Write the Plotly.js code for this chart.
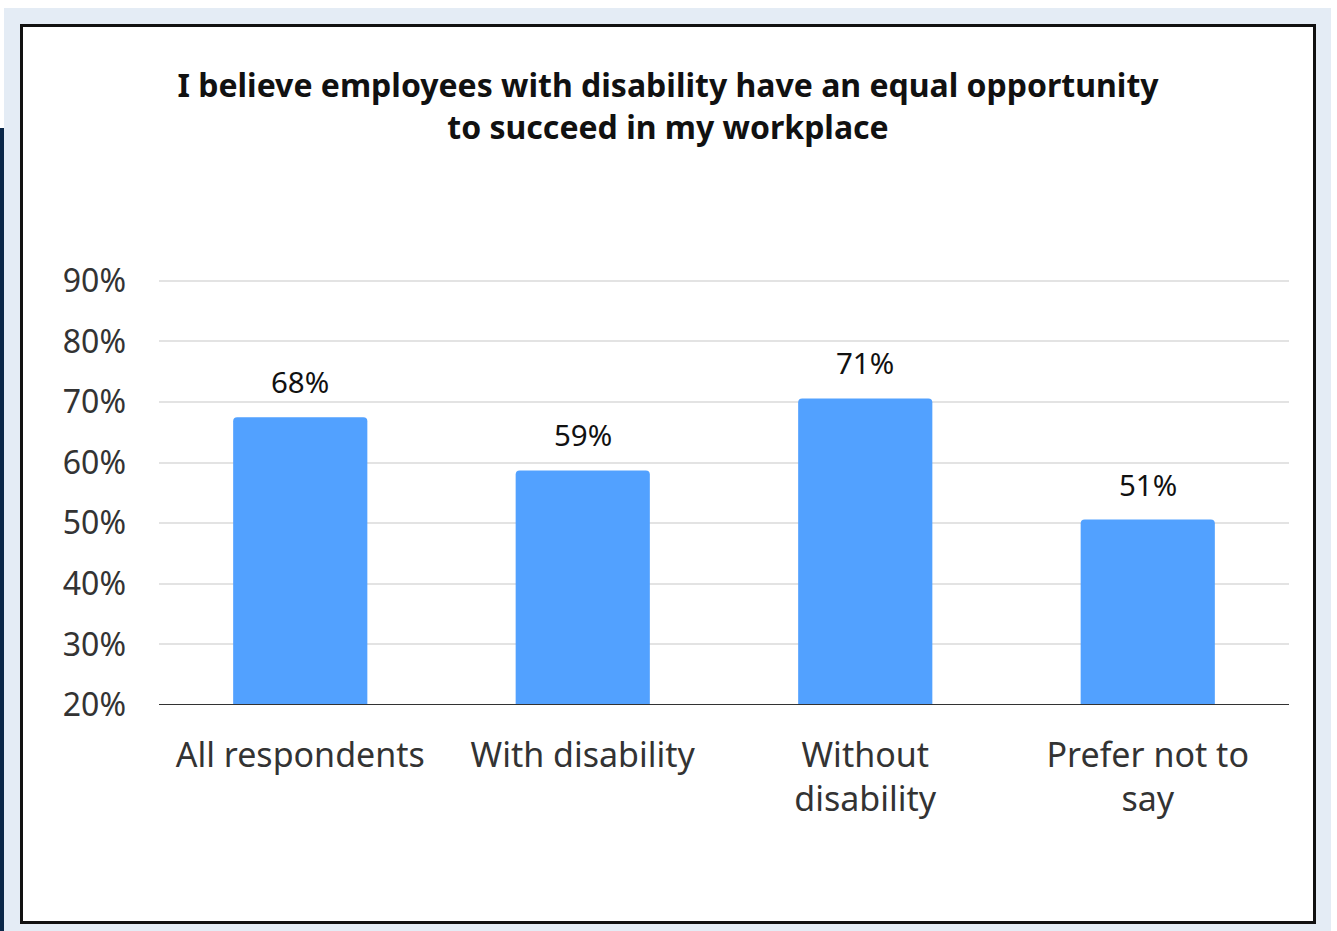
<!DOCTYPE html>
<html>
<head>
<meta charset="utf-8">
<script src="https://cdn.plot.ly/plotly-3.0.1.min.js"></script>
<style>
  html, body { margin: 0; padding: 0; width: 1337px; height: 931px; overflow: hidden; background: #ffffff; }
  #bg { position: absolute; left: 4px; top: 8px; width: 1327px; height: 923px; background: #e4ecf5; }
  #strip { position: absolute; left: 0; top: 128px; width: 4px; height: 803px; background: #0b2748; }
  #chart { position: absolute; left: 20px; top: 24px; width: 1296px; height: 900px; box-sizing: border-box; border: 3px solid #111111; background: #ffffff; }
</style>
</head>
<body>
<div id="bg"></div>
<div id="strip"></div>
<div id="chart"></div>
<script>
const categories = ["All respondents", "With disability", "Without<br>disability", "Prefer not to<br>say"];
const values = [67.5, 58.7, 70.6, 50.6];
const valueLabels = ["68%", "59%", "71%", "51%"];
const tickValues = [20, 30, 40, 50, 60, 70, 80, 90];
const tickLabels = ["20%", "30%", "40%", "50%", "60%", "70%", "80%", "90%"];
const titleText = "I believe employees with disability have an equal opportunity<br>to succeed in my workplace";

const font = "Noto Sans, Open Sans, sans-serif";

const trace = {
  type: "bar",
  x: categories,
  y: values,
  marker: { color: "#52a1ff", cornerradius: 4 },
  width: 0.475,
  hoverinfo: "skip"
};

const annotations = categories.map((c, i) => ({
  x: c, y: values[i], xref: "x", yref: "y",
  text: valueLabels[i], showarrow: false,
  yanchor: "bottom", yshift: 13,
  font: { family: font, size: 29.5, color: "#111111" }
}));

const layout = {
  width: 1290, height: 894,
  margin: { l: 136, r: 24, t: 252, b: 216 },
  paper_bgcolor: "#ffffff",
  plot_bgcolor: "#ffffff",
  showlegend: false,
  title: {
    text: titleText,
    x: 0.5, xref: "container", xanchor: "center",
    y: 1 - 70 / 894, yref: "container", yanchor: "top",
    font: { family: font, size: 32, color: "#111111", weight: "bold" }
  },
  xaxis: {
    type: "category",
    range: [-0.5, 3.5],
    showgrid: false,
    showline: false,
    zeroline: false,
    ticks: "",
    ticklabelstandoff: 27,
    tickfont: { family: font, size: 34, color: "#333333" }
  },
  yaxis: {
    range: [20, 90.3],
    tickvals: tickValues,
    ticktext: tickLabels,
    showgrid: true,
    gridcolor: "#e3e3e3",
    gridwidth: 2,
    zeroline: false,
    showline: false,
    ticks: "",
    ticklabelstandoff: 32,
    tickfont: { family: font, size: 32, color: "#333333" }
  },
  shapes: [{
    type: "line", xref: "paper", yref: "y",
    x0: 0, x1: 1, y0: 20, y1: 20,
    line: { color: "#333333", width: 2 }
  }],
  annotations: annotations
};

Plotly.newPlot("chart", [trace], layout, { displayModeBar: false, staticPlot: true });
</script>
</body>
</html>
